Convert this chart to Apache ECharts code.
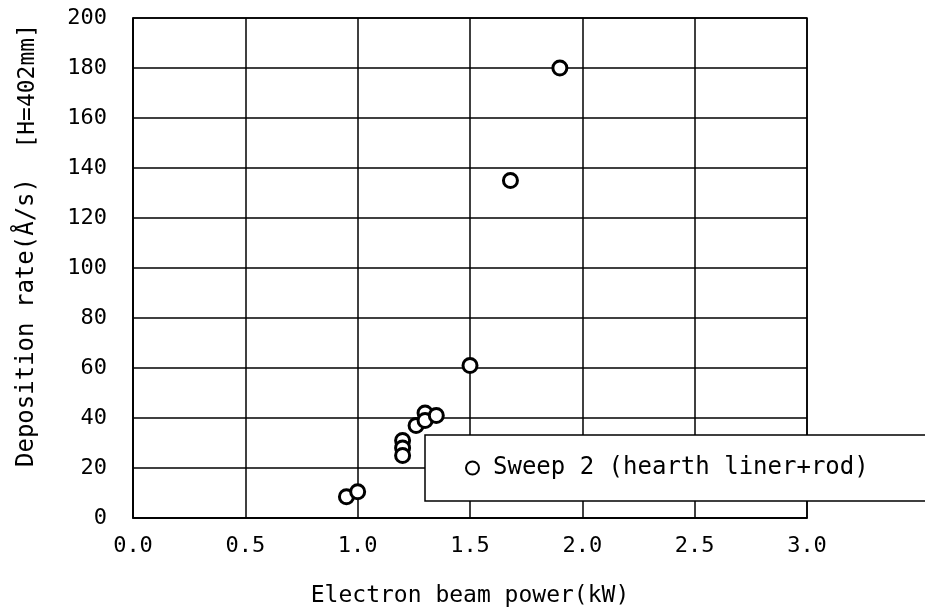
<!DOCTYPE html>
<html>
<head>
<meta charset="utf-8">
<script src="https://cdn.jsdelivr.net/npm/echarts@6/dist/echarts.min.js"></script>
<style>
  html, body { margin: 0; padding: 0; background: #fff; }
  #chart { width: 925px; height: 616px; }
</style>
</head>
<body>
<div id="chart"></div>
<script>
// Sweep 2 data
const powerKW = [0.95, 1.0, 1.2, 1.2, 1.2, 1.26, 1.3, 1.3, 1.35, 1.5, 1.68, 1.9]
const rateAs  = [8.5, 10.5, 31, 28, 25, 37, 42, 39, 41, 61, 135, 180]
const xTicks = ['0.0', '0.5', '1.0', '1.5', '2.0', '2.5', '3.0']
const yTicks = [0, 20, 40, 60, 80, 100, 120, 140, 160, 180, 200]
const seriesName = 'Sweep 2 (hearth liner+rod)'

const font = '"DejaVu Sans Mono", "Liberation Mono", monospace'
let points = powerKW.map((x, i) => [x, rateAs[i]])

let myChart = echarts.init(document.getElementById('chart'))
let options = {
  animation: false,
  backgroundColor: '#fff',
  grid: { left: 133, right: 118, top: 18, bottom: 98, show: true, borderColor: '#000', borderWidth: 1.5 },
  legend: {
    data: [seriesName],
    left: 425,
    top: 435,
    padding: [21, 80, 21, 40],
    itemWidth: 13,
    itemHeight: 13,
    itemGap: 12,
    backgroundColor: '#fff',
    borderColor: '#000',
    borderWidth: 1.5,
    textStyle: { fontFamily: font, fontSize: 24, color: '#000', padding: [0, 0, 0, 9] }
  },
  xAxis: {
    type: 'value',
    min: 0,
    max: 3,
    interval: 0.5,
    name: 'Electron beam power(kW)',
    nameLocation: 'middle',
    nameGap: 67,
    nameTextStyle: { fontFamily: font, fontSize: 23, color: '#000' },
    axisLine: { lineStyle: { color: '#000', width: 1.5 } },
    axisTick: { show: false },
    axisLabel: {
      margin: 17,
      fontFamily: font, fontSize: 22, color: '#000',
      formatter: v => xTicks[Math.round(v / 0.5)]
    },
    splitLine: { lineStyle: { color: '#000', width: 1.5 } }
  },
  yAxis: {
    type: 'value',
    min: 0,
    max: 200,
    interval: 20,
    axisLine: { lineStyle: { color: '#000', width: 1.5 } },
    axisTick: { show: false },
    axisLabel: {
      margin: 26,
      fontFamily: font, fontSize: 22, color: '#000',
      formatter: v => String(yTicks[Math.round(v / 20)])
    },
    splitLine: { lineStyle: { color: '#000', width: 1.5 } }
  },
  graphic: [
    {
      type: 'text', rotation: Math.PI / 2,
      left: 15, top: 178,
      style: { text: 'Deposition rate(Å/s)', font: '24px ' + font, fill: '#000' }
    },
    {
      type: 'text', rotation: Math.PI / 2,
      left: 17, top: 24,
      style: { text: '[H=402mm]', font: '23px ' + font, fill: '#000' }
    }
  ],
  series: [{
    name: seriesName,
    type: 'scatter',
    symbol: 'circle',
    symbolSize: 14,
    itemStyle: { color: '#fff', borderColor: '#000', borderWidth: 3, opacity: 1 },
    data: points
  }]
}
myChart.setOption(options)
</script>
</body>
</html>
